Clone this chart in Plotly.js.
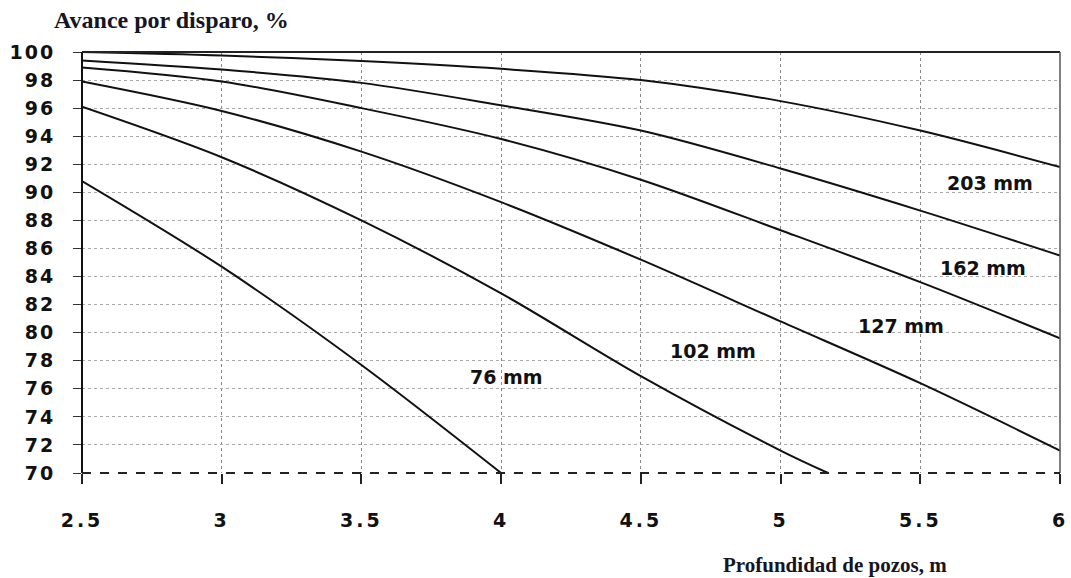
<!DOCTYPE html>
<html><head><meta charset="utf-8">
<script src="https://cdn.plot.ly/plotly-3.0.1.min.js"></script>
<style>
html,body{margin:0;padding:0;background:#fff;}
#chart{width:1071px;height:578px;}
.xtick text{letter-spacing:3px;}
.ytick text{letter-spacing:2px;}
</style></head><body><div id="chart"></div>
<script>
// Depth of holes (m) and advance per blast (%) for each hole diameter
const depth   = [2.5, 3, 3.5, 4, 4.5, 5, 5.5, 6];
const adv203  = [100, 99.75, 99.35, 98.8, 98.0, 96.5, 94.4, 91.8];
const adv162  = [99.4, 98.75, 97.8, 96.2, 94.4, 91.7, 88.7, 85.5];
const adv127  = [98.9, 97.9, 96.0, 93.8, 90.9, 87.3, 83.6, 79.6];
const adv102  = [97.9, 95.8, 92.9, 89.3, 85.2, 80.8, 76.4, 71.6];
const depth76 = [2.5, 3, 3.5, 4, 4.5, 5, 5.17];
const adv76   = [96.1, 92.5, 88.0, 82.8, 76.9, 71.6, 70];
const depthF  = [2.5, 3, 3.5, 4];
const advF    = [90.8, 84.7, 77.7, 70];

const xTickVals = [2.5, 3, 3.5, 4, 4.5, 5, 5.5, 6];
const xTickText = ['2.5', '3', '3.5', '4', '4.5', '5', '5.5', '6'];
const yTickVals = [70,72,74,76,78,80,82,84,86,88,90,92,94,96,98,100];

const labelText = ['203 mm', '162 mm', '127 mm', '102 mm', '76 mm'];
const labelX    = [5.75, 5.725, 5.43, 4.758, 4.018];
const labelY    = [90.66, 84.6, 80.47, 78.7, 76.86];

const series = [
  [depth, adv203, '203 mm'],
  [depth, adv162, '162 mm'],
  [depth, adv127, '127 mm'],
  [depth, adv102, '102 mm'],
  [depth76, adv76, '76 mm'],
  [depthF, advF, 'curva inferior']
];

const traces = series.map(s => ({
  x: s[0], y: s[1], name: s[2], type: 'scatter', mode: 'lines',
  line: {color: '#111', width: 2, shape: 'spline', smoothing: 0.9},
  hoverinfo: 'x+y+name'
}));

const tickFont = {family: 'DejaVu Sans', size: 19, color: '#111', weight: 'bold'};
const annotations = labelText.map((t, i) => ({
  x: labelX[i], y: labelY[i], xref: 'x', yref: 'y', text: t, showarrow: false,
  xanchor: 'center', yanchor: 'middle',
  font: {family: 'DejaVu Sans', size: 19, color: '#111', weight: 'bold'}
}));
annotations.push({
  x: 0.0915, y: 1.076, xref: 'paper', yref: 'paper', text: 'Avance por disparo, %',
  showarrow: false, xanchor: 'center', yanchor: 'middle',
  font: {family: 'Liberation Serif', size: 24, color: '#151525', weight: 'bold'}
});
annotations.push({
  x: 0.77, y: -0.2185, xref: 'paper', yref: 'paper', text: 'Profundidad de pozos, m',
  showarrow: false, xanchor: 'center', yanchor: 'middle',
  font: {family: 'Liberation Serif', size: 21, color: '#151525', weight: 'bold'}
});

const layout = {
  width: 1071, height: 578,
  margin: {l: 82, r: 11, t: 52, b: 105, pad: 0},
  paper_bgcolor: '#fff', plot_bgcolor: '#fff',
  showlegend: false,
  xaxis: {
    range: [2.5, 6], tickvals: xTickVals, ticktext: xTickText,
    showgrid: true, gridcolor: '#888', griddash: 'dot', gridwidth: 1,
    zeroline: false, showline: false,
    ticks: 'outside', ticklen: 10, tickcolor: '#222', tickwidth: 2,
    ticklabelstandoff: 20, tickfont: tickFont
  },
  yaxis: {
    range: [70, 100], tickvals: yTickVals,
    showgrid: true, gridcolor: '#aaa', griddash: 'dot', gridwidth: 1,
    zeroline: false, showline: false,
    ticks: 'outside', ticklen: 8, tickcolor: '#333', tickwidth: 1,
    ticklabelstandoff: 14, tickfont: tickFont
  },
  shapes: [
    {type: 'line', xref: 'paper', yref: 'paper', x0: 0, x1: 0, y0: 0, y1: 1, line: {color: '#111', width: 2}},
    {type: 'line', xref: 'paper', yref: 'paper', x0: 0, x1: 1, y0: 1, y1: 1, line: {color: '#222', width: 2}},
    {type: 'line', xref: 'paper', yref: 'paper', x0: 1, x1: 1, y0: 0, y1: 1, line: {color: '#555', width: 1.5}},
    {type: 'line', xref: 'paper', yref: 'paper', x0: 0, x1: 1, y0: 0, y1: 0, line: {color: '#222', width: 2, dash: 'dash'}}
  ],
  annotations: annotations
};

Plotly.newPlot('chart', traces, layout, {displayModeBar: false, staticPlot: true});
</script></body></html>
